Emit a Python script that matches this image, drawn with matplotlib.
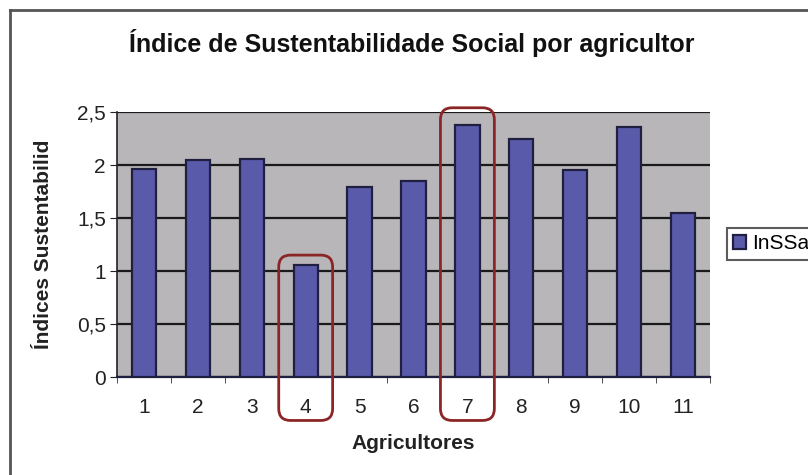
import matplotlib.pyplot as plt
from matplotlib.patches import FancyBboxPatch
from matplotlib.lines import Line2D
from matplotlib.ticker import FuncFormatter, MultipleLocator
import numpy as np

fam = ['Liberation Sans', 'DejaVu Sans']

agricultores = ['1', '2', '3', '4', '5', '6', '7', '8', '9', '10', '11']
inssa = [1.96, 2.05, 2.06, 1.06, 1.79, 1.85, 2.38, 2.25, 1.95, 2.36, 1.55]
destacados = [4, 7]

fig = plt.figure(figsize=(8.08, 4.75), dpi=100)
ax = fig.add_axes([0.1448, 0.2063, 0.7339, 0.5579])

x = np.arange(len(agricultores))
bars = ax.bar(x, inssa, width=0.45, color='#5a5aab', edgecolor='#1f1f40',
              linewidth=1.6, zorder=3, label='InSSagricultor')

ax.set_facecolor('#b9b6b9')
ax.set_xlim(-0.5, len(agricultores) - 0.5)
ax.set_ylim(0, 2.5)
ax.yaxis.set_major_locator(MultipleLocator(0.5))
ax.yaxis.set_major_formatter(FuncFormatter(lambda v, _: f'{v:g}'.replace('.', ',')))
ax.yaxis.grid(True, color='#1a1a1a', linewidth=1.6, zorder=1)
ax.set_axisbelow(True)
ax.yaxis.get_gridlines()[-1].set_visible(False)

ax.set_xticks(x)
ax.set_xticklabels(agricultores)
ax.set_xticks(np.arange(-0.5, len(agricultores)), minor=True)
ax.tick_params(axis='x', which='major', length=0, pad=15)
ax.tick_params(axis='x', which='minor', length=4, direction='out', color='#333333')
ax.tick_params(axis='y', length=5, direction='out', color='#222222', pad=3)
for lab in ax.get_yticklabels() + ax.get_xticklabels():
    lab.set_family(fam)
    lab.set_fontsize(15)
    lab.set_color('#222222')

for s in ['top', 'right']:
    ax.spines[s].set_visible(False)
ax.spines['left'].set_color('#222222')
ax.spines['bottom'].set_color('#1f1f40')
ax.spines['left'].set_linewidth(1.2)
ax.spines['bottom'].set_linewidth(1.6)

ax.set_xlabel('Agricultores', family=fam, fontsize=15, fontweight='bold', labelpad=12,
              color='#222222')
ax.set_ylabel('Índices Sustentabilid', family=fam, fontsize=15, fontweight='bold', labelpad=17,
              color='#222222')
fig.text(412 / 808, 1 - 43 / 475, 'Índice de Sustentabilidade Social por agricultor', family=fam,
         fontsize=18, fontweight='bold', ha='center', va='center', color='#111111')

# red rounded boxes around highlighted farmers
ppx = ax.bbox.width / len(agricultores)
ppy = ax.bbox.height / 2.5
for n in destacados:
    i = n - 1
    top = inssa[i] + (0.09 if inssa[i] < 2 else 0.16)
    box = FancyBboxPatch((i - 0.5, -0.41), 1.0, top + 0.41,
                         boxstyle='round,pad=0,rounding_size=0.22',
                         mutation_aspect=ppx / ppy, facecolor='none',
                         edgecolor='#8c2626', linewidth=2, clip_on=False, zorder=5)
    ax.add_patch(box)

leg = ax.legend(loc='upper left', bbox_to_anchor=(727 / 808, 1 - 228 / 475),
                bbox_transform=fig.transFigure, borderaxespad=0,
                prop={'family': fam, 'size': 15}, frameon=True, fancybox=False,
                handlelength=0.6, handleheight=0.6, handletextpad=0.3, borderpad=0.3)
leg.get_frame().set_edgecolor('#333333')
leg.get_frame().set_linewidth(1.5)

# outer chart frame
fig.add_artist(Line2D([10 / 808, 10 / 808], [0, 1 - 10 / 475], transform=fig.transFigure,
                      color='#555555', linewidth=2))
fig.add_artist(Line2D([10 / 808, 1], [1 - 10 / 475, 1 - 10 / 475], transform=fig.transFigure,
                      color='#555555', linewidth=2))

fig.savefig('out.png', dpi=100)
